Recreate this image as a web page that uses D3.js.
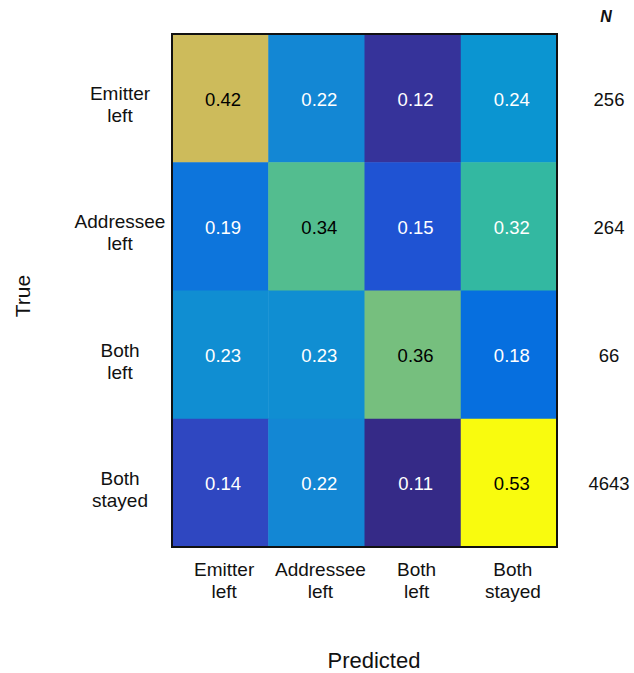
<!DOCTYPE html>
<html>
<head>
<meta charset="utf-8">
<script src="https://cdn.jsdelivr.net/npm/d3@7"></script>
<style>
  html, body { margin: 0; padding: 0; background: #fff; }
  svg { display: block; font-family: Arial, "Liberation Sans", Helvetica, sans-serif; }
</style>
</head>
<body>
<svg id="chart" width="634" height="673"></svg>
<script>
// Confusion matrix: rows = true class, columns = predicted class
const trueLabels = [["Emitter", "left"], ["Addressee", "left"], ["Both", "left"], ["Both", "stayed"]];
const predLabels = [["Emitter", "left"], ["Addressee", "left"], ["Both", "left"], ["Both", "stayed"]];
const rowEmitterLeft   = [0.42, 0.22, 0.12, 0.24];
const rowAddresseeLeft = [0.19, 0.34, 0.15, 0.32];
const rowBothLeft      = [0.23, 0.23, 0.36, 0.18];
const rowBothStayed    = [0.14, 0.22, 0.11, 0.53];
const rowCounts = [256, 264, 66, 4643];

const matrix = [rowEmitterLeft, rowAddresseeLeft, rowBothLeft, rowBothStayed];

// Parula colormap (64 entries)
const parula = [
[0.2081,0.1663,0.5292],[0.2116,0.1898,0.5777],[0.2123,0.2138,0.6270],[0.2081,0.2386,0.6771],
[0.1959,0.2645,0.7279],[0.1707,0.2919,0.7792],[0.1253,0.3242,0.8303],[0.0591,0.3598,0.8683],
[0.0117,0.3875,0.8820],[0.0060,0.4086,0.8828],[0.0165,0.4266,0.8786],[0.0329,0.4430,0.8720],
[0.0498,0.4586,0.8641],[0.0629,0.4737,0.8554],[0.0723,0.4887,0.8467],[0.0779,0.5040,0.8384],
[0.0793,0.5200,0.8312],[0.0749,0.5375,0.8263],[0.0641,0.5570,0.8240],[0.0488,0.5772,0.8228],
[0.0343,0.5966,0.8199],[0.0265,0.6137,0.8135],[0.0239,0.6287,0.8038],[0.0231,0.6418,0.7913],
[0.0228,0.6535,0.7768],[0.0267,0.6642,0.7607],[0.0384,0.6743,0.7436],[0.0590,0.6838,0.7254],
[0.0843,0.6928,0.7062],[0.1133,0.7015,0.6859],[0.1453,0.7098,0.6646],[0.1801,0.7177,0.6424],
[0.2178,0.7250,0.6193],[0.2586,0.7317,0.5954],[0.3022,0.7376,0.5712],[0.3482,0.7424,0.5473],
[0.3953,0.7459,0.5244],[0.4420,0.7481,0.5033],[0.4871,0.7491,0.4840],[0.5300,0.7491,0.4661],
[0.5709,0.7485,0.4494],[0.6099,0.7473,0.4337],[0.6473,0.7456,0.4188],[0.6834,0.7435,0.4044],
[0.7184,0.7411,0.3905],[0.7525,0.7384,0.3768],[0.7858,0.7356,0.3633],[0.8185,0.7327,0.3498],
[0.8507,0.7299,0.3360],[0.8824,0.7274,0.3217],[0.9139,0.7258,0.3063],[0.9450,0.7261,0.2886],
[0.9739,0.7314,0.2666],[0.9938,0.7455,0.2403],[0.9990,0.7653,0.2164],[0.9955,0.7861,0.1967],
[0.9880,0.8066,0.1794],[0.9789,0.8271,0.1633],[0.9697,0.8481,0.1475],[0.9626,0.8705,0.1309],
[0.9589,0.8949,0.1132],[0.9598,0.9218,0.0948],[0.9661,0.9514,0.0755],[0.9763,0.9831,0.0538]
].map(c => d3.rgb(c[0]*255, c[1]*255, c[2]*255).formatHex());

const allValues = matrix.flat();
const norm = d3.scaleLinear().domain(d3.extent(allValues)).range([0, 1]);
const color = d3.scaleSequential(d3.interpolateRgbBasis(parula))
  .domain(d3.extent(allValues));

const svg = d3.select("#chart");
const plot = { left: 172, top: 34, right: 557, bottom: 547 };

const x = d3.scaleBand().domain(d3.range(4)).range([plot.left, plot.right]);
const y = d3.scaleBand().domain(d3.range(4)).range([plot.top, plot.bottom]);

const cells = [];
matrix.forEach((row, i) => row.forEach((v, j) => cells.push({ i, j, v })));

// Heatmap cells
svg.append("g").selectAll("rect").data(cells).join("rect")
  .attr("x", d => x(d.j))
  .attr("y", d => y(d.i))
  .attr("width", x.bandwidth() + 0.5)
  .attr("height", y.bandwidth() + 0.5)
  .attr("fill", d => color(d.v));

// Cell value labels: dark text on the upper half of the colormap, white below
svg.append("g").selectAll("text").data(cells).join("text")
  .attr("x", d => x(d.j) + x.bandwidth() / 2 + 3)
  .attr("y", d => y(d.i) + y.bandwidth() / 2 + 1)
  .attr("text-anchor", "middle")
  .attr("dominant-baseline", "central")
  .attr("font-size", 18.5)
  .attr("fill", d => norm(d.v) > 0.52 ? "#000" : "#fff")
  .text(d => d.v.toFixed(2));

// Frame
svg.append("rect")
  .attr("x", plot.left).attr("y", plot.top)
  .attr("width", plot.right - plot.left).attr("height", plot.bottom - plot.top)
  .attr("fill", "none").attr("stroke", "#111").attr("stroke-width", 2);

// Row (true class) labels
const rowG = svg.append("g").selectAll("text").data(trueLabels).join("text")
  .attr("text-anchor", "middle")
  .attr("font-size", 19)
  .attr("fill", "#111");
rowG.each(function(lines, i) {
  const t = d3.select(this);
  lines.forEach((s, k) => {
    t.append("tspan")
      .attr("x", 120)
      .attr("y", y(i) + y.bandwidth() / 2 + 2 + k * 22)
      .text(s);
  });
});

// Column (predicted class) labels
const colG = svg.append("g").selectAll("text").data(predLabels).join("text")
  .attr("text-anchor", "middle")
  .attr("font-size", 19)
  .attr("fill", "#111");
colG.each(function(lines, j) {
  const t = d3.select(this);
  lines.forEach((s, k) => {
    t.append("tspan")
      .attr("x", x(j) + x.bandwidth() / 2 + 4)
      .attr("y", 576 + k * 22)
      .text(s);
  });
});

// Sample counts per true class
svg.append("g").selectAll("text").data(rowCounts).join("text")
  .attr("x", 609)
  .attr("y", (d, i) => y(i) + y.bandwidth() / 2 + 1)
  .attr("text-anchor", "middle")
  .attr("dominant-baseline", "central")
  .attr("font-size", 18.5)
  .attr("fill", "#111")
  .text(d => d);

svg.append("text")
  .attr("x", 606).attr("y", 16)
  .attr("text-anchor", "middle")
  .attr("dominant-baseline", "central")
  .attr("font-size", 16)
  .attr("font-weight", "bold")
  .attr("font-style", "italic")
  .attr("fill", "#111")
  .text("N");

// Axis titles
svg.append("text")
  .attr("x", 374).attr("y", 660)
  .attr("text-anchor", "middle")
  .attr("dominant-baseline", "central")
  .attr("font-size", 22)
  .attr("fill", "#111")
  .text("Predicted");

svg.append("text")
  .attr("transform", "translate(22,296) rotate(-90)")
  .attr("text-anchor", "middle")
  .attr("dominant-baseline", "central")
  .attr("font-size", 21)
  .attr("fill", "#111")
  .text("True");
</script>
</body>
</html>
